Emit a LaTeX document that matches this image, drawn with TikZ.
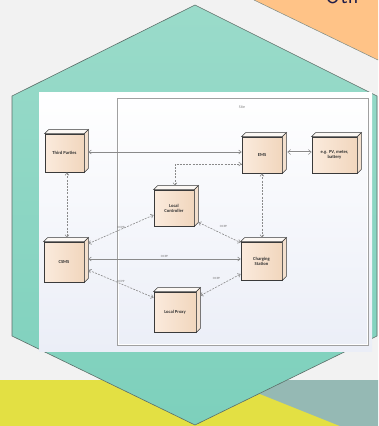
\documentclass[tikz,border=0pt]{standalone}
\usepackage{fontspec}
\setmainfont{Carlito}
\usetikzlibrary{arrows.meta,calc}
\definecolor{bg}{HTML}{F2F2F2}
\definecolor{yel}{HTML}{E3E043}
\definecolor{graytl}{HTML}{95B9B4}
\definecolor{orng}{HTML}{FFC387}
\definecolor{hexT}{HTML}{9ADBCA}
\definecolor{hexB}{HTML}{7DD0BC}
\definecolor{hexE}{HTML}{5C6E68}
\definecolor{panelB}{HTML}{EBEEF7}
\definecolor{sitec}{HTML}{A0A0A0}
\definecolor{boxL}{HTML}{FBEBDD}
\definecolor{boxR}{HTML}{F1D6BD}
\definecolor{boxE}{HTML}{3A3A3A}
\definecolor{facec}{HTML}{FCF8F4}
\definecolor{sidec}{HTML}{F3E0CE}
\definecolor{cgray}{HTML}{8A8A8A}
\definecolor{navy}{HTML}{1F1D4A}
\begin{document}
\begin{tikzpicture}[x=1pt,y=-1pt,
  box/.style={draw=boxE, line width=0.7pt, left color=boxL, right color=boxR,
    inner sep=0.5pt, align=center, text=black!80,
    font=\fontsize{4.6}{5.2}\selectfont\bfseries},
  topface/.style={draw=boxE, line width=0.6pt, fill=facec},
  sideface/.style={draw=boxE, line width=0.6pt, fill=sidec},
  conn/.style={draw=cgray, line width=0.6pt,
    {Straight Barb[length=2.5pt,width=4pt]}-{Straight Barb[length=2.5pt,width=4pt]}},
  dl/.style={conn, dash pattern=on 2pt off 1.2pt},
  dbl/.style={draw=cgray, line width=0.5pt, double=white, double distance=1pt,
    {Straight Barb[length=3pt,width=5pt]}-{Straight Barb[length=3pt,width=5pt]}},
  lab/.style={font=\fontsize{3.2}{3.5}\selectfont, text=black!55, inner sep=0.5pt},
  sitelab/.style={font=\fontsize{4}{4.5}\selectfont, text=black!50, inner sep=0pt}
]
\useasboundingbox (0,0) rectangle (378,426);
\clip (0,0) rectangle (378,426);
% background
\fill[bg] (0,0) rectangle (378,426);
\fill[yel] (0,380) rectangle (378,426);
\fill[graytl] (225,380) -- (378,380) -- (378,426) -- (340,426) -- cycle;
\fill[orng] (254,0) -- (378,60) -- (378,0) -- cycle;
\draw[hexE!80, line width=0.5pt] (254,0) -- (378,60);
\node[anchor=base west, font=\fontsize{22}{22}\selectfont\sffamily, text=navy, inner sep=0pt] (oth) at (325,3.5) {Oth};
% hexagon
\shadedraw[top color=hexT, bottom color=hexB, draw=hexE, line width=0.6pt]
  (195,5) -- (377,96) -- (377,336) -- (195,425) -- (12,336) -- (12,96) -- cycle;
% white panel
\shade[top color=white, bottom color=panelB] (39,92) rectangle (372,351);
% site frame
\draw[sitec, line width=0.9pt] (117,98) rectangle (368,345);
\draw[white, line width=0.4pt] (118.2,99.2) rectangle (366.8,343.8);
\node[sitelab] (site) at (242,107) {Site};
% nodes
\node[box, minimum width=39pt, minimum height=38pt] (tp) at (64.5,153) {Third Parties};
\node[box, minimum width=40pt, minimum height=36pt] (ems) at (262,155) {EMS};
\node[box, minimum width=45pt, minimum height=36pt] (pv) at (334.5,155) {e.g. PV, meter,\\battery};
\node[box, minimum width=40pt, minimum height=36pt] (lc) at (174,208) {Local\\Controller};
\node[box, minimum width=40pt, minimum height=40pt] (csms) at (64,262) {CSMS};
\node[box, minimum width=41pt, minimum height=38pt] (cs) at (261.5,261) {Charging\\Station};
\node[box, minimum width=42pt, minimum height=40pt] (lp) at (175,312) {Local Proxy};
\foreach \n in {tp,ems,pv,lc,csms,cs,lp}{
  \draw[topface] (\n.north west) -- ++(4,-4) -- ($(\n.north east)+(4,-4)$) -- (\n.north east) -- cycle;
  \draw[sideface] (\n.north east) -- ++(4,-4) -- ($(\n.south east)+(4,-4)$) -- (\n.south east) -- cycle;
}
% connectors
\draw[conn] ([xshift=4pt,yshift=1pt]tp.east) -- ([yshift=1pt]tp.east -| ems.west);
\draw[dl] ([xshift=1pt,yshift=4pt]lc.north) |- ([yshift=-9pt]ems.west);
\draw[dbl] ([xshift=5pt,yshift=3pt]ems.east) -- ([yshift=3pt]pv.west);
\draw[dl] (ems.south) -- ([yshift=4pt]ems.south |- cs.north);
\draw[dl] ([xshift=2.5pt]tp.south) -- ([xshift=3pt,yshift=4pt]csms.north);
\draw[dl] ([xshift=4pt,yshift=-2pt]csms.north east) -- node[lab, above=0pt]{OCPP} ([yshift=-7pt]lc.west);
\draw[conn] ([xshift=4pt,yshift=3pt]csms.east) -- node[lab, above=1pt]{OCPP} ([yshift=3pt]csms.east -| cs.west);
\draw[dl] ([xshift=4pt,yshift=-8pt]csms.east) -- node[lab, above=1pt]{OCPP} ([yshift=-6pt]lp.north west);
\draw[dl] ([xshift=4pt,yshift=4pt]lc.south east) -- node[lab, xshift=4pt, yshift=6pt]{OCPP} ([yshift=-1pt]cs.north west);
\draw[dl] ([xshift=4pt,yshift=-4pt]lp.north east) -- node[lab, xshift=-4pt, yshift=6pt]{OCPP} ([yshift=-13pt]cs.west);
\end{tikzpicture}
\end{document}
